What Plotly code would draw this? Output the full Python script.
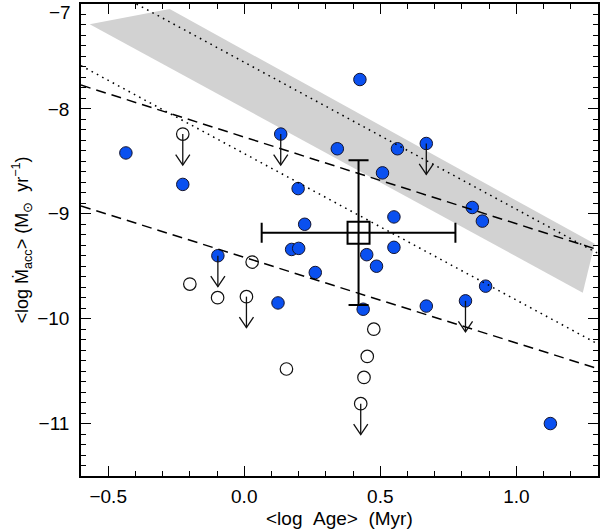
import plotly.graph_objects as go

# ---- data ----
filled_x = [-0.435, -0.226, 0.134, 0.198, -0.097, 0.124, 0.425, 0.342, 0.563, 0.669,
            0.508, 0.838, 0.875, 0.550, 0.550, 0.450, 0.486, 0.261, 0.222, 0.174,
            0.200, 0.437, 0.669, 0.813, 0.887, 1.125]
filled_y = [-8.42, -8.72, -8.24, -8.76, -9.40, -9.85, -7.72, -8.38, -8.38, -8.33,
            -8.61, -8.94, -9.07, -9.03, -9.32, -9.39, -9.50, -9.56, -9.10, -9.34,
            -9.33, -9.91, -9.88, -9.83, -9.69, -11.00]
filled_limit = [0, 0, 1, 0, 1, 0, 0, 0, 0, 1,
                0, 0, 0, 0, 0, 0, 0, 0, 0, 0,
                0, 0, 0, 1, 0, 0]

open_x = [-0.226, 0.029, -0.200, -0.098, 0.008, 0.155, 0.476, 0.452, 0.440, 0.428]
open_y = [-8.24, -9.46, -9.67, -9.80, -9.79, -10.48, -10.10, -10.36, -10.56, -10.81]
open_limit = [1, 0, 0, 0, 1, 0, 0, 0, 0, 1]

mean_x = [0.420]
mean_y = [-9.18]
mean_xerr = [0.356]
mean_yerr = [0.69]

band_x = [-0.568, -0.274, 1.288, 1.244, -0.568]
band_y = [-7.193, -7.048, -9.286, -9.752, -7.193]

dash_up_x = [-0.6, 1.3]
dash_up_y = [-7.773, -9.343]
dash_lo_x = [-0.6, 1.3]
dash_lo_y = [-8.925, -10.477]
dot_up_x = [-0.396, 1.3]
dot_up_y = [-7.0, -9.378]
dot_lo_x = [-0.6, 1.3]
dot_lo_y = [-7.588, -10.242]

x_ticks = [-0.5, 0.0, 0.5, 1.0]
x_ticklabels = ["\u22120.5", "0.0", "0.5", "1.0"]
y_ticks = [-11, -10, -9, -8]
y_ticklabels = ["\u221211", "\u221210", "\u22129", "\u22128"]
y_top_label = "\u22127"

x_title = "&lt;log\u00a0\u00a0Age&gt;\u00a0\u00a0(Myr)"
y_title = ("&lt;log\u00a0\u1e40<sub>acc</sub>&gt;\u00a0(M<sub>\u2299</sub>"
           "\u00a0\u00a0yr<sup>\u22121</sup>)")

# ---- styling constants ----
BLUE = "#0a50f0"
EDGE = "#14142e"
ARROW_LEN = 0.295
HEAD_H = 0.10
HEAD_W = 0.026
FONT = "Liberation Sans, Arial, Helvetica, sans-serif"
FS = 19

fig = go.Figure()

fig.add_trace(go.Scatter(x=band_x, y=band_y, fill="toself", mode="none",
                         fillcolor="#d2d2d2", hoverinfo="skip", showlegend=False))

fig.add_trace(go.Scatter(x=filled_x, y=filled_y, mode="markers", showlegend=False,
                         marker=dict(symbol="circle", size=12.5, color=BLUE,
                                     line=dict(color=EDGE, width=1))))
fig.add_trace(go.Scatter(x=open_x, y=open_y, mode="markers", showlegend=False,
                         marker=dict(symbol="circle-open", size=12.5, color="#111111",
                                     line=dict(color="#111111", width=1.2))))

for xs, ys, dash in [(dash_up_x, dash_up_y, "10px,6px"), (dash_lo_x, dash_lo_y, "10px,6px"),
                     (dot_up_x, dot_up_y, "1.6px,4.4px"), (dot_lo_x, dot_lo_y, "1.6px,4.4px")]:
    fig.add_trace(go.Scatter(x=xs, y=ys, mode="lines", showlegend=False,
                             line=dict(color="black", width=1.5, dash=dash)))

# upper-limit arrows
ax, ay = [], []
for xs, ys, lims in [(filled_x, filled_y, filled_limit), (open_x, open_y, open_limit)]:
    for x, y, l in zip(xs, ys, lims):
        if l:
            tip = y - ARROW_LEN
            ax += [x, x, None, x - HEAD_W, x, x + HEAD_W, None]
            ay += [y, tip, None, tip + HEAD_H, tip, tip + HEAD_H, None]
fig.add_trace(go.Scatter(x=ax, y=ay, mode="lines", showlegend=False,
                         line=dict(color="#111111", width=1.3)))

fig.add_trace(go.Scatter(x=mean_x, y=mean_y, mode="markers", showlegend=False,
                         marker=dict(symbol="square-open", size=22, color="black",
                                     line=dict(color="black", width=2)),
                         error_x=dict(type="data", array=mean_xerr, color="black",
                                      thickness=2, width=10),
                         error_y=dict(type="data", array=mean_yerr, color="black",
                                      thickness=2, width=10)))

axis_common = dict(showgrid=False, zeroline=False, showline=True, linecolor="black",
                   linewidth=1.5, mirror="ticks", ticks="inside", ticklen=10,
                   tickwidth=1.2, tickcolor="black", automargin=False,
                   tickfont=dict(family=FONT, size=FS, color="black"))

fig.update_xaxes(range=[-0.6, 1.3], tickvals=x_ticks, ticktext=x_ticklabels,
                 minor=dict(dtick=0.1, ticks="inside", ticklen=5, tickcolor="black",
                            tickwidth=1.2), ticklabelstandoff=2, **axis_common)
fig.update_yaxes(range=[-11.5, -7], tickvals=y_ticks, ticktext=y_ticklabels,
                 minor=dict(dtick=0.1, ticks="inside", ticklen=5, tickcolor="black",
                            tickwidth=1.2), ticklabelstandoff=6,
                 title=dict(text=y_title, standoff=4,
                            font=dict(family=FONT, size=18, color="black")),
                 **axis_common)

fig.update_layout(
    template="none",
    width=600, height=531,
    margin=dict(l=81, r=2, t=4, b=55),
    plot_bgcolor="white", paper_bgcolor="white",
    annotations=[
        dict(text=y_top_label, xref="paper", yref="paper", x=-0.015, y=0.983,
             xanchor="right", yanchor="middle", showarrow=False,
             font=dict(family=FONT, size=FS, color="black")),
        dict(text=x_title, xref="paper", yref="paper",
             x=0.5, y=-0.089, xanchor="center", yanchor="middle", showarrow=False,
             font=dict(family=FONT, size=FS, color="black")),
    ],
)

fig.write_html("out.html", config={"displayModeBar": False},
               post_script="document.body.style.margin='0';document.body.style.overflow='hidden';")
